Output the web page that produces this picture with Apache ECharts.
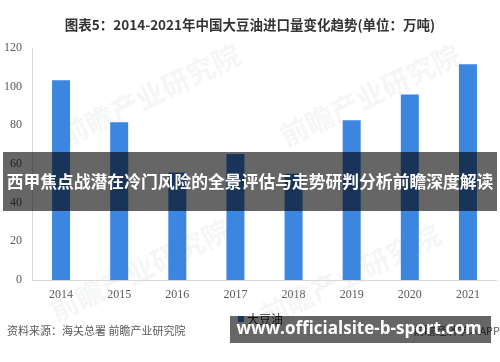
<!DOCTYPE html>
<html lang="zh">
<head>
    <meta charset="UTF-8">
    <title>大豆油进口量</title>
    <script src="https://cdn.jsdelivr.net/npm/echarts@6/dist/echarts.min.js"></script>
    <style>
        html, body { margin: 0; padding: 0; background: #fff; }
        #main { width: 500px; height: 362px; }
    </style>
</head>
<body>
<div id="main"></div>
<script type="text/javascript">
    // 数据
    var years = ['2014', '2015', '2016', '2017', '2018', '2019', '2020', '2021'];
    var soyOil = [103.3, 81.6, 55.6, 65.2, 55.0, 82.6, 96.0, 111.6];
    var yTicks = [0, 20, 40, 60, 80, 100, 120];

    var myChart = echarts.init(document.getElementById('main'));
    var labelFont = '"Liberation Serif", "DejaVu Serif", serif';
    var cjk = '"Noto Sans CJK SC", sans-serif';

    // 水印
    var marks = [[150, 95], [370, 95], [140, 270], [350, 275]].map(function (p) {
        return {
            type: 'text', x: p[0], y: p[1], rotation: Math.PI / 7, z: 1, silent: true,
            style: {
                text: '前瞻产业研究院', fill: 'rgba(200,208,222,0.2)',
                font: 'bold 28px ' + cjk, align: 'center', verticalAlign: 'middle'
            }
        };
    });

    option = {
        animation: false,
        title: {
            text: '图表5：2014-2021年中国大豆油进口量变化趋势(单位：万吨)',
            left: 'center',
            top: 13,
            textStyle: { fontFamily: cjk, fontSize: 13.5, fontWeight: 'bold', color: '#333' }
        },
        legend: {
            data: ['大豆油'],
            left: 233,
            top: 308,
            itemWidth: 6,
            itemHeight: 6,
            itemGap: 4,
            icon: 'rect',
            textStyle: { fontFamily: cjk, fontSize: 12, color: '#333', padding: [0, 0, 0, -2] }
        },
        grid: { left: 32, right: 3, top: 48, bottom: 82, containLabel: false },
        xAxis: {
            type: 'category',
            data: years,
            axisLine: { lineStyle: { color: '#d9d9d9' } },
            axisTick: { show: false },
            axisLabel: { color: '#595959', fontFamily: labelFont, fontSize: 12, margin: 9 }
        },
        yAxis: {
            type: 'value',
            min: yTicks[0],
            max: yTicks[yTicks.length - 1],
            interval: yTicks[1] - yTicks[0],
            axisLine: { show: true, lineStyle: { color: '#d9d9d9' } },
            axisTick: { show: false },
            splitLine: { show: false },
            axisLabel: { color: '#595959', fontFamily: labelFont, fontSize: 12, margin: 10 }
        },
        series: [{
            name: '大豆油',
            type: 'bar',
            data: soyOil,
            barWidth: 18,
            itemStyle: { color: '#3d86df' }
        }],
        graphic: marks.concat([
            {
                type: 'text', left: 7, top: 325, z: 5,
                style: { text: '资料来源：海关总署 前瞻产业研究院', fill: '#595959', font: '11px ' + cjk }
            },
            {
                type: 'text', right: 0, top: 325, z: 5,
                style: { text: '前瞻经济学人APP', fill: '#595959', font: '11px ' + cjk }
            },
            {
                type: 'rect', z: 100, silent: true,
                shape: { x: 3, y: 152, width: 494, height: 59 },
                style: { fill: 'rgba(0,0,0,0.6)' }
            },
            {
                type: 'text', x: 250, y: 182, z: 101, silent: true,
                style: {
                    text: '西甲焦点战潜在冷门风险的全景评估与走势研判分析前瞻深度解读',
                    fill: '#fff', font: 'bold 16.8px ' + cjk, align: 'center', verticalAlign: 'middle'
                }
            },
            {
                type: 'rect', z: 100, silent: true,
                shape: { x: 230, y: 316, width: 261, height: 27 },
                style: { fill: 'rgba(0,0,0,0.6)' }
            },
            {
                type: 'text', x: 359, y: 329, z: 101, silent: true,
                style: {
                    text: 'www.officialsite-b-sport.com',
                    fill: '#fff', font: 'bold 17px "Open Sans", "Noto Sans", sans-serif',
                    align: 'center', verticalAlign: 'middle'
                }
            }
        ])
    };
    myChart.setOption(option);
</script>
</body>
</html>
